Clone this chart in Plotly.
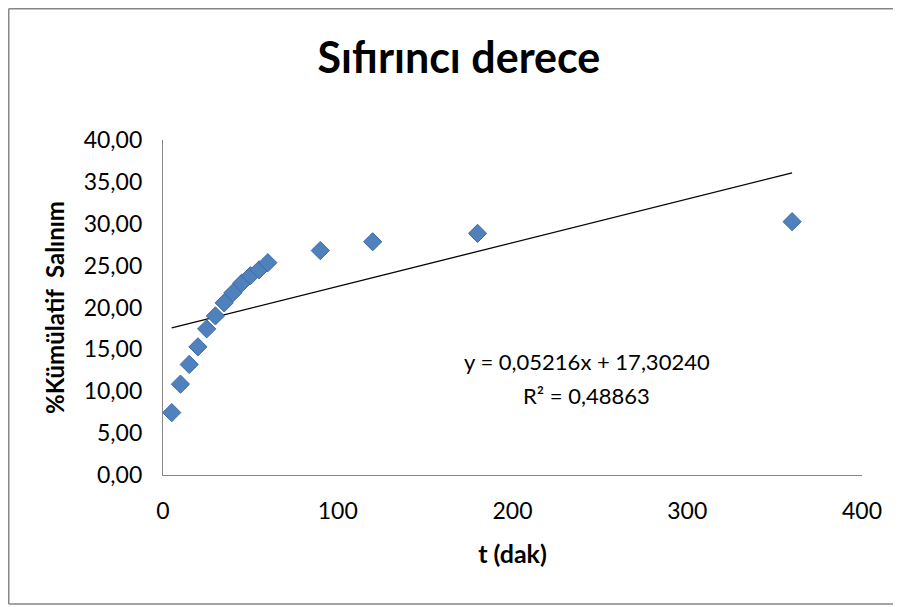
import plotly.graph_objects as go

# Data
t_dak = [5, 10, 15, 20, 25, 30, 35, 40, 45, 50, 55, 60, 90, 120, 180, 360]
kumulatif = [7.45, 10.85, 13.2, 15.3, 17.45, 19.0, 20.55, 21.75, 22.9, 23.8,
             24.5, 25.35, 26.8, 27.85, 28.85, 30.25]

# Linear trend line as printed on the chart
slope = 0.05216
intercept = 17.30240
r2 = 0.48863

x_ticks = [0, 100, 200, 300, 400]
y_ticks = [0, 5, 10, 15, 20, 25, 30, 35, 40]

FONT = "Lato"
GREY = "#868686"

trend_x = [min(t_dak), max(t_dak)]
trend_y = [slope * v + intercept for v in trend_x]

fig = go.Figure()

fig.add_trace(go.Scatter(
    x=trend_x, y=trend_y,
    mode="lines",
    line=dict(color="black", width=1.3),
    showlegend=False,
    hoverinfo="skip",
))

fig.add_trace(go.Scatter(
    x=t_dak, y=kumulatif,
    mode="markers",
    marker=dict(symbol="diamond", size=14, color="#4F81BD",
                line=dict(color="#3F6AA6", width=1)),
    showlegend=False,
))

eq_text = f"y = {slope:.5f}x + {intercept:.5f}".replace(".", ",")
r2_text = f"R² = {r2:.5f}".replace(".", ",")

fig.add_annotation(x=242.5, y=13.5, xref="x", yref="y", text=eq_text,
                   showarrow=False, font=dict(family=FONT, size=22, color="black"))
fig.add_annotation(x=242.5, y=9.5, xref="x", yref="y", text=r2_text,
                   showarrow=False, font=dict(family=FONT, size=22, color="black"))

# Outer chart border: left, top and bottom edges (the right one is off the picture)
bx0, bx1, by0, by1 = -0.2207, 1.08, -0.385, 1.3918
for x0, y0, x1, y1 in [(bx0, by0, bx0, by1), (bx0, by1, bx1, by1), (bx0, by0, bx1, by0)]:
    fig.add_shape(type="line", xref="paper", yref="paper",
                  x0=x0, y0=y0, x1=x1, y1=y1,
                  line=dict(color=GREY, width=1.5))

# page body adds an 8px offset, so the figure is a bit smaller than the window
fig.update_layout(
    width=893, height=599,
    paper_bgcolor="white", plot_bgcolor="white",
    separators=",.",
    margin=dict(l=155, r=39, t=132, b=132),
    title=dict(text="<b>Sıfırıncı derece</b>", x=0.505, xanchor="center",
               y=0.9165, yanchor="middle",
               font=dict(family=FONT, size=43, color="black")),
    font=dict(family=FONT, color="black"),
)

fig.update_xaxes(
    range=[0, 400], tickvals=x_ticks, showgrid=False, zeroline=False,
    showline=True, linecolor=GREY, linewidth=1.3, ticks="",
    ticklabelstandoff=15,
    tickfont=dict(family=FONT, size=23, color="black"),
    title=dict(text="<b>t (dak)</b>", font=dict(family=FONT, size=25), standoff=22),
)
fig.update_yaxes(
    range=[0, 40], tickvals=y_ticks, tickformat=".2f", showgrid=False,
    zeroline=False, showline=True, linecolor=GREY, linewidth=1.3, ticks="",
    ticklabelstandoff=15,
    tickfont=dict(family=FONT, size=23, color="black"),
    title=dict(text="<b>%Kümülatif  Salınım</b>", font=dict(family=FONT, size=24),
               standoff=12),
)

fig.write_html("out.html")
